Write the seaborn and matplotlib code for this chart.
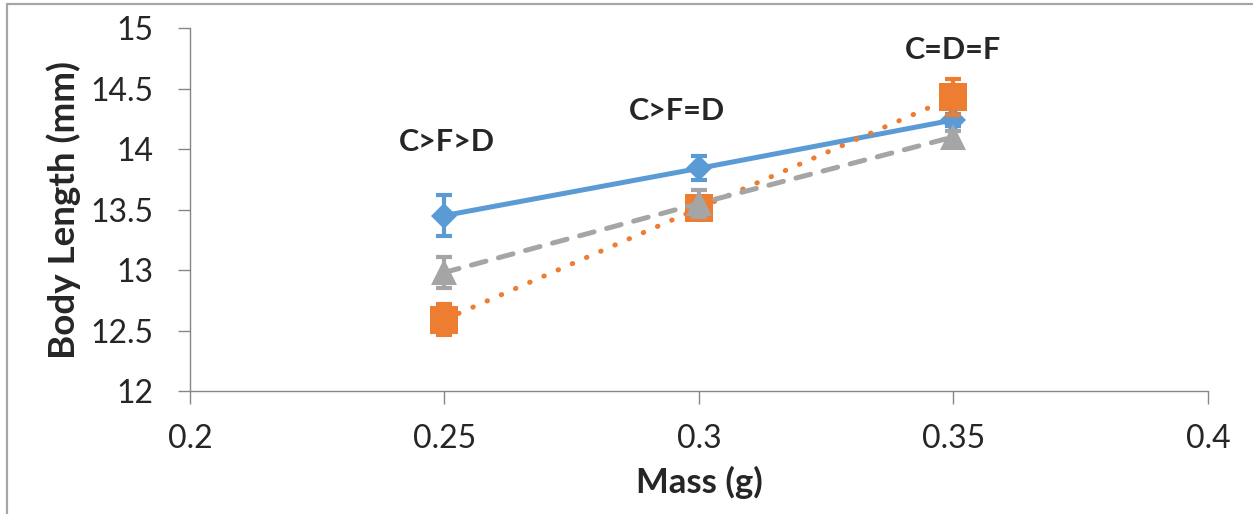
import matplotlib
matplotlib.use("Agg")
import matplotlib.pyplot as plt
import seaborn as sns
import pandas as pd
from matplotlib.lines import Line2D

# data
mass = [0.25, 0.3, 0.35]
c_len = [13.45, 13.84, 14.24]
c_err = [0.17, 0.10, 0.05]
d_len = [12.59, 13.51, 14.43]
d_err = [0.13, 0.05, 0.15]
f_len = [12.98, 13.55, 14.10]
f_err = [0.13, 0.11, 0.05]
notes = ["C>F>D", "C>F=D", "C=D=F"]

sns.set_style("white")
plt.rcParams["font.family"] = ["Lato", "DejaVu Sans"]

fig = plt.figure(figsize=(12.53, 5.14), dpi=100)
ax = fig.add_axes([0.1516, 0.2393, 0.8124, 0.7062])

df = pd.DataFrame({"mass": mass, "C": c_len, "D": d_len, "F": f_len})

series = [
    ("C", c_err, "#5B9BD5", "D", 13.5, "-", 1),
    ("D", d_err, "#ED7D31", "s", 20, (0, (0.1, 3.0)), 2),
    ("F", f_err, "#A5A5A5", "^", 19, (0, (3.0, 2.6)), 3),
]
for name, err, col, mk, ms, ls, z in series:
    ax.errorbar(df["mass"], df[name], yerr=err, fmt="none", ecolor=col,
                elinewidth=3, capsize=6, capthick=3, zorder=z)
    sns.lineplot(data=df, x="mass", y=name, color=col, marker=mk, markersize=ms,
                 markeredgewidth=0, linewidth=3.6, linestyle=ls,
                 dash_capstyle="round", solid_capstyle="round", zorder=z, ax=ax)

# letters above the groups
note_pos = [(0.2505, 14.06), (0.2957, 14.31), (0.3500, 14.82)]
for txt, (x, y) in zip(notes, note_pos):
    ax.text(x, y, txt, ha="center", va="center", fontsize=22, fontweight="bold")

ax.set_xlim(0.2, 0.4)
ax.set_ylim(12, 15)
ax.set_xticks([0.2, 0.25, 0.3, 0.35, 0.4])
ax.set_xticklabels(["0.2", "0.25", "0.3", "0.35", "0.4"])
ax.set_yticks([12, 12.5, 13, 13.5, 14, 14.5, 15])
ax.set_yticklabels(["12", "12.5", "13", "13.5", "14", "14.5", "15"])
ax.tick_params(axis="both", labelsize=23, length=9, width=1, color="#868686",
               direction="out", left=True, bottom=True)
ax.tick_params(axis="y", pad=17)
ax.tick_params(axis="x", pad=15)
ax.set_xlabel("Mass (g)", fontsize=25, fontweight="bold", labelpad=8)
ax.set_ylabel("Body Length (mm)", fontsize=26.5, fontweight="bold", labelpad=7)

sns.despine(ax=ax)
for s in ["left", "bottom"]:
    ax.spines[s].set_color("#868686")
    ax.spines[s].set_linewidth(1)

# chart frame, only its left and top edges fall inside the picture
fx, fy = 6.5 / 1253, 1 - 3.5 / 514
fig.add_artist(Line2D([fx, fx], [0, fy], transform=fig.transFigure,
                      color="#A6A6A6", linewidth=1.6))
fig.add_artist(Line2D([fx, 1], [fy, fy], transform=fig.transFigure,
                      color="#A6A6A6", linewidth=1.6))

fig.savefig("out.png", dpi=100)
